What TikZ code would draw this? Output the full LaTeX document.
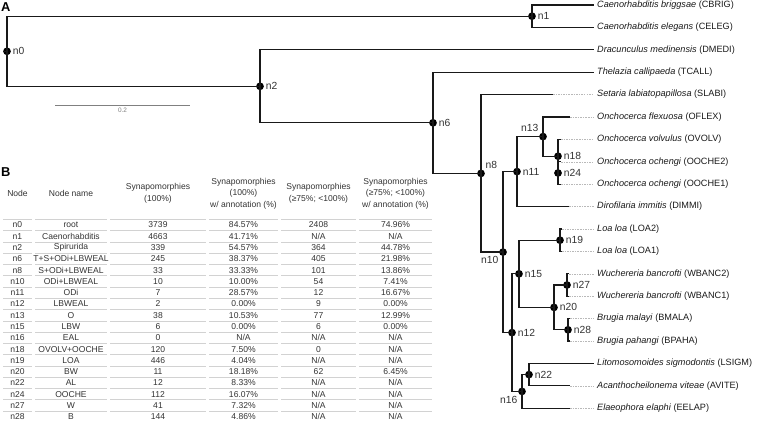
\documentclass[tikz,border=0pt]{standalone}
\usepackage{fontspec}
\setmainfont{Liberation Sans}
\newcommand{\notavail}{N/A}
\begin{document}
\begin{tikzpicture}[
        x=0.03cm, y=-0.03cm,
        inode/.style={circle, fill=black, inner sep=0pt, minimum size=6.6pt},
        nlbl/.style={font=\fontsize{8.8}{10}\selectfont, text=black!80, inner sep=1.3pt},
        taxon/.style={anchor=west, inner sep=2.5pt, font=\fontsize{7.8}{10}\selectfont, text=black!90},
        branch/.style={line width=1.1pt, black!90},
        tail/.style={line width=0.5pt, gray!55, dash pattern=on 1.3pt off 0.9pt},
        cell/.style={font=\fontsize{7.3}{9.8}\selectfont, text=black!80, align=center, inner sep=0pt},
        rule/.style={line width=0.7pt, gray!35},
        panel/.style={font=\fontsize{11}{12}\selectfont\bfseries, anchor=west, inner sep=0pt}
    ]
        \useasboundingbox (0,0) rectangle (757,423);

        \node[panel] (pa) at (1,7) {A};
        \node[panel] (pb) at (1,172) {B};

        \node[inode, label={[nlbl]right:n0}] (n0) at (7,51.3) {};
        \node[inode, label={[nlbl]right:n1}] (n1) at (532,16.2) {};
        \node[inode, label={[nlbl]right:n2}] (n2) at (260,86.3) {};
        \node[inode, label={[nlbl]right:n6}] (n6) at (433,122.8) {};
        \node[inode, label={[nlbl]above right:n8}] (n8) at (481,173.4) {};
        \node[inode, label={[nlbl]below left:n10}] (n10) at (503,252.1) {};
        \node[inode, label={[nlbl]right:n11}] (n11) at (517,171.6) {};
        \node[inode, label={[nlbl]right:n12}] (n12) at (512,332.6) {};
        \node[inode, label={[nlbl]above left:n13}] (n13) at (543,136.6) {};
        \node[inode, label={[nlbl]right:n15}] (n15) at (519,273.8) {};
        \node[inode, label={[nlbl]below left:n16}] (n16) at (522,391.4) {};
        \node[inode, label={[nlbl]right:n18}] (n18) at (558,156.2) {};
        \node[inode, label={[nlbl]right:n19}] (n19) at (560,240.2) {};
        \node[inode, label={[nlbl]right:n20}] (n20) at (554,307.4) {};
        \node[inode, label={[nlbl]right:n22}] (n22) at (529,374.6) {};
        \node[inode, label={[nlbl]right:n24}] (n24) at (558,173) {};
        \node[inode, label={[nlbl]right:n27}] (n27) at (567,285) {};
        \node[inode, label={[nlbl]right:n28}] (n28) at (568,329.8) {};

        \node[taxon] (t-cbrig) at (594,5) {\textit{Caenorhabditis briggsae} (CBRIG)};
        \node[taxon] (t-celeg) at (594,27.4) {\textit{Caenorhabditis elegans} (CELEG)};
        \node[taxon] (t-dmedi) at (594,49.8) {\textit{Dracunculus medinensis} (DMEDI)};
        \node[taxon] (t-tcall) at (594,72.2) {\textit{Thelazia callipaeda} (TCALL)};
        \node[taxon] (t-slabi) at (594,94.6) {\textit{Setaria labiatopapillosa} (SLABI)};
        \node[taxon] (t-oflex) at (594,117) {\textit{Onchocerca flexuosa} (OFLEX)};
        \node[taxon] (t-ovolv) at (594,139.4) {\textit{Onchocerca volvulus} (OVOLV)};
        \node[taxon] (t-ooche2) at (594,161.8) {\textit{Onchocerca ochengi} (OOCHE2)};
        \node[taxon] (t-ooche1) at (594,184.2) {\textit{Onchocerca ochengi} (OOCHE1)};
        \node[taxon] (t-dimmi) at (594,206.6) {\textit{Dirofilaria immitis} (DIMMI)};
        \node[taxon] (t-loa2) at (594,229) {\textit{Loa loa} (LOA2)};
        \node[taxon] (t-loa1) at (594,251.4) {\textit{Loa loa} (LOA1)};
        \node[taxon] (t-wbanc2) at (594,273.8) {\textit{Wuchereria bancrofti} (WBANC2)};
        \node[taxon] (t-wbanc1) at (594,296.2) {\textit{Wuchereria bancrofti} (WBANC1)};
        \node[taxon] (t-bmala) at (594,318.6) {\textit{Brugia malayi} (BMALA)};
        \node[taxon] (t-bpaha) at (594,341) {\textit{Brugia pahangi} (BPAHA)};
        \node[taxon] (t-lsigm) at (594,363.4) {\textit{Litomosomoides sigmodontis} (LSIGM)};
        \node[taxon] (t-avite) at (594,385.8) {\textit{Acanthocheilonema viteae} (AVITE)};
        \node[taxon] (t-eelap) at (594,408.2) {\textit{Elaeophora elaphi} (EELAP)};

        \coordinate (root) at (3,51.3);
        \coordinate (slabi) at (553,94.6);
        \coordinate (oflex) at (570,117);
        \coordinate (ovolv) at (561,139.4);
        \coordinate (ooche2) at (561,161.8);
        \coordinate (ooche1) at (561,184.2);
        \coordinate (dimmi) at (569,206.6);
        \coordinate (loa2) at (562,229);
        \coordinate (loa1) at (562,251.4);
        \coordinate (wbanc2) at (569,273.8);
        \coordinate (wbanc1) at (569,296.2);
        \coordinate (bmala) at (570,318.6);
        \coordinate (bpaha) at (570,341);
        \coordinate (avite) at (570,385.8);
        \coordinate (eelap) at (570,408.2);

        \draw[branch] (root) -- (n0.center);
        \draw[branch] (n0.center) |- (n1.center);
        \draw[branch] (n0.center) |- (n2.center);
        \draw[branch] (n1.center) |- (t-cbrig.west);
        \draw[branch] (n1.center) |- (t-celeg.west);
        \draw[branch] (n2.center) |- (t-dmedi.west);
        \draw[branch] (n2.center) |- (n6.center);
        \draw[branch] (n6.center) |- (t-tcall.west);
        \draw[branch] (n6.center) |- (n8.center);
        \draw[branch] (n8.center) |- (slabi);
        \draw[branch] (n8.center) |- (n10.center);
        \draw[branch] (n10.center) |- (n11.center);
        \draw[branch] (n10.center) |- (n12.center);
        \draw[branch] (n11.center) |- (n13.center);
        \draw[branch] (n11.center) |- (dimmi);
        \draw[branch] (n13.center) |- (oflex);
        \draw[branch] (n13.center) |- (n18.center);
        \draw[branch] (n18.center) |- (ovolv);
        \draw[branch] (n18.center) |- (n24.center);
        \draw[branch] (n24.center) |- (ooche2);
        \draw[branch] (n24.center) |- (ooche1);
        \draw[branch] (n12.center) |- (n15.center);
        \draw[branch] (n12.center) |- (n16.center);
        \draw[branch] (n15.center) |- (n19.center);
        \draw[branch] (n15.center) |- (n20.center);
        \draw[branch] (n19.center) |- (loa2);
        \draw[branch] (n19.center) |- (loa1);
        \draw[branch] (n20.center) |- (n27.center);
        \draw[branch] (n20.center) |- (n28.center);
        \draw[branch] (n27.center) |- (wbanc2);
        \draw[branch] (n27.center) |- (wbanc1);
        \draw[branch] (n28.center) |- (bmala);
        \draw[branch] (n28.center) |- (bpaha);
        \draw[branch] (n16.center) |- (n22.center);
        \draw[branch] (n16.center) |- (eelap);
        \draw[branch] (n22.center) |- (t-lsigm.west);
        \draw[branch] (n22.center) |- (avite);

        \foreach \leaf in {slabi, oflex, ovolv, ooche2, ooche1, dimmi, loa2, loa1, wbanc2, wbanc1, bmala, bpaha, avite, eelap}
            \draw[tail] (\leaf) -- (t-\leaf.west);

        \coordinate (sb0) at (55,105);
        \coordinate (sb1) at (190,105);
        \draw[line width=0.7pt, gray] (sb0) -- (sb1) node[midway, below=2pt, inner sep=0pt, font=\fontsize{5.5}{6}\selectfont] (sblbl) {0.2};

        \node[cell] (h1) at (17.5,193.5) {Node};
        \node[cell] (h2) at (71,193.5) {Node name};
        \node[cell] (h3) at (158,193.5) {Synapomorphies\\(100\%)};
        \node[cell] (h4) at (243.5,193.5) {Synapomorphies\\(100\%)\\w/ annotation (\%)};
        \node[cell] (h5) at (318.5,193.5) {Synapomorphies\\(≥75\%; <100\%)};
        \node[cell] (h6) at (395.5,193.5) {Synapomorphies\\(≥75\%; <100\%)\\w/ annotation (\%)};

        \foreach \id/\nm/\sa/\sb/\sc/\sd [count=\r from 0] in {
            n0/root/3739/84.57\%/2408/74.96\%,
            n1/Caenorhabditis/4663/41.71\%/\notavail/\notavail,
            n2/Spirurida/339/54.57\%/364/44.78\%,
            n6/T+S+ODi+LBWEAL/245/38.37\%/405/21.98\%,
            n8/S+ODi+LBWEAL/33/33.33\%/101/13.86\%,
            n10/ODi+LBWEAL/10/10.00\%/54/7.41\%,
            n11/ODi/7/28.57\%/12/16.67\%,
            n12/LBWEAL/2/0.00\%/9/0.00\%,
            n13/O/38/10.53\%/77/12.99\%,
            n15/LBW/6/0.00\%/6/0.00\%,
            n16/EAL/0/\notavail/\notavail/\notavail,
            n18/OVOLV+OOCHE/120/7.50\%/0/\notavail,
            n19/LOA/446/4.04\%/\notavail/\notavail,
            n20/BW/11/18.18\%/62/6.45\%,
            n22/AL/12/8.33\%/\notavail/\notavail,
            n24/OOCHE/112/16.07\%/\notavail/\notavail,
            n27/W/41/7.32\%/\notavail/\notavail,
            n28/B/144/4.86\%/\notavail/\notavail} {
            \node[cell] (\id-a) at (17.5,225+11.28*\r) {\id};
            \node[cell] (\id-b) at (71,225+11.28*\r) {\nm};
            \node[cell] (\id-c) at (158,225+11.28*\r) {\sa};
            \node[cell] (\id-d) at (243.5,225+11.28*\r) {\sb};
            \node[cell] (\id-e) at (318.5,225+11.28*\r) {\sc};
            \node[cell] (\id-f) at (395.5,225+11.28*\r) {\sd};
            \foreach \xa/\xb in {3/32, 35/107, 110/206, 209/278, 281/356, 359/432}
                \draw[rule] (\xa,219.4+11.28*\r) -- (\xb,219.4+11.28*\r);
        }
    \end{tikzpicture}
\end{document}
